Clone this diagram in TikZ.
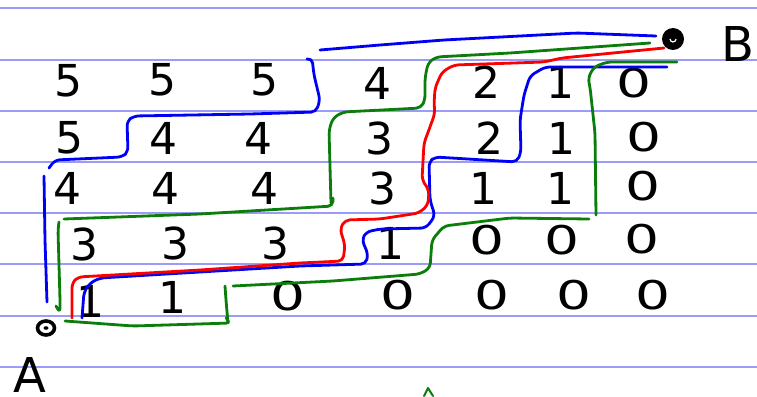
\documentclass[tikz,border=0pt]{standalone}
\usepackage{fontspec}
\usetikzlibrary{calc}
\newfontfamily\handfont{DejaVu Sans}
\definecolor{ruleblue}{RGB}{155,155,250}
\definecolor{pblue}{RGB}{0,0,245}
\definecolor{pgreen}{RGB}{10,125,10}
\definecolor{pred}{RGB}{250,0,0}
\tikzset{
  rule/.style={draw=ruleblue,line width=1.8pt},
  digit/.style={font=\handfont\fontsize{44}{44}\selectfont,inner sep=0pt},
  zerodigit/.style={digit,xscale=1.25,yscale=0.9},
  biglabel/.style={font=\handfont\fontsize{48}{48}\selectfont,inner sep=0pt,text depth=0pt},
  pathstroke/.style={line width=2.8pt,line cap=round,line join=round,rounded corners=5pt},
  bluepath/.style={pathstroke,draw=pblue},
  greenpath/.style={pathstroke,draw=pgreen},
  redpath/.style={pathstroke,draw=pred}
}
\begin{document}
\begin{tikzpicture}[x=1pt,y=-1pt]
\useasboundingbox (0,0) rectangle (757,396);
\fill[white] (0,0) rectangle (757,396);
% ruled lines
\foreach \yy in {8,60,111,162,213,264,316,367}
  \draw[rule] (0,\yy) -- (757,\yy);
% digits
\node[digit] (r1c1) at (68,81) {5};
\node[digit] (r1c2) at (162,80) {5};
\node[digit] (r1c3) at (264,80) {5};
\node[digit] (r1c4) at (377,83) {4};
\node[digit] (r1c5) at (486,82) {2};
\node[digit] (r1c6) at (560,82) {1};
\node[zerodigit] (r1c7) at (634,83) {0};
\node[digit] (r2c1) at (69,138) {5};
\node[digit] (r2c2) at (163,138) {4};
\node[digit] (r2c3) at (258,138) {4};
\node[digit] (r2c4) at (379,138) {3};
\node[digit] (r2c5) at (489,138) {2};
\node[digit] (r2c6) at (561,138) {1};
\node[zerodigit] (r2c7) at (644,137) {0};
\node[digit] (r3c1) at (67,188) {4};
\node[digit] (r3c2) at (165,188) {4};
\node[digit] (r3c3) at (264,188) {4};
\node[digit] (r3c4) at (382,188) {3};
\node[digit] (r3c5) at (483,188) {1};
\node[digit] (r3c6) at (560,188) {1};
\node[zerodigit] (r3c7) at (643,186) {0};
\node[digit] (r4c1) at (84,244) {3};
\node[digit] (r4c2) at (175,243) {3};
\node[digit] (r4c3) at (275,243) {3};
\node[digit] (r4c4) at (390,243) {1};
\node[zerodigit] (r4c5) at (487,240) {0};
\node[zerodigit] (r4c6) at (562,240) {0};
\node[zerodigit] (r4c7) at (642,239) {0};
\node[digit] (r5c1) at (90,301) {1};
\node[digit] (r5c2) at (172,297) {1};
\node[zerodigit] (r5c3) at (288,296) {0};
\node[zerodigit] (r5c4) at (398,295) {0};
\node[zerodigit] (r5c5) at (492,295) {0};
\node[zerodigit] (r5c6) at (574,295) {0};
\node[zerodigit] (r5c7) at (653,295) {0};
% end points
\coordinate (A) at (46,328);
\coordinate (B) at (673,39);
\draw[black,line width=3.6pt] (A) ellipse (8.5pt and 7pt);
\fill[black] (A) ellipse (2.5pt and 1.8pt);
\fill[black] (B) circle (11pt);
\draw[white,line width=1.2pt] ($(B)+(-3,0)$) arc (180:360:3pt);
\node[biglabel,anchor=south] (labA) at (30,393) {A};
\node[biglabel] (labB) at (738,44) {B};
% blue path 1
\draw[bluepath] (47,302) -- (45,240) -- (44,176);
\draw[bluepath] (49,168) -- (55,160) -- (122,157) -- (128,152) -- (127,121) -- (134,116) -- (250,114) -- (316,112) -- (320,100) -- (314,75) -- (312,58) -- (307,59);
\draw[bluepath] (320,50) -- (380,45) -- (444,40) -- (577,33) -- (656,36);
% blue path 2
\draw[bluepath] (82,318) -- (84,292) -- (90,283) -- (100,278) -- (200,272) -- (300,266) -- (366,264) -- (368,254) -- (362,240) -- (366,232) -- (380,229) -- (426,228) -- (435,216) -- (430,200) -- (429,162) -- (435,157) -- (517,162) -- (521,152) -- (520,120) -- (524,95) -- (530,76) -- (545,67) -- (667,67);
% red path
\draw[redpath] (72,318) -- (72,283) -- (78,277) -- (200,270) -- (300,263) -- (343,261) -- (345,245) -- (340,229) -- (345,220) -- (380,219) -- (419,213) -- (428,205) -- (429,190) -- (422,180) -- (424,143) -- (430,127) -- (435,113) -- (434,105) -- (435,88) -- (442,72) -- (454,65) -- (544,62) -- (562,58) -- (664,48);
% green path 1
\draw[greenpath] (56,306) -- (60,313) -- (60,300) -- (58,230) -- (59,222);
\draw[greenpath] (64,219) -- (200,214) -- (333,206) -- (333,198);
\draw[greenpath] (331,203) -- (329,130) -- (333,118) -- (343,112) -- (421,108) -- (425,100) -- (425,78) -- (428,63) -- (436,57) -- (510,53) -- (650,43);
% green path 2
\draw[greenpath] (65,321) -- (133,326) -- (231,323) -- (226,318);
\draw[greenpath] (228,323) -- (226,300) -- (225,286);
\draw[greenpath] (233,286) -- (333,281) -- (420,274) -- (430,268) -- (432,240) -- (444,226) -- (510,218) -- (589,219);
\draw[greenpath] (596,215) -- (595,133) -- (590,87) -- (588,78) -- (594,67) -- (607,62) -- (677,62);
% small mark at bottom
\draw[draw=pgreen,line width=2pt,line cap=round,line join=round] (424,396) -- (428,388) -- (433,396);
\end{tikzpicture}
\end{document}
